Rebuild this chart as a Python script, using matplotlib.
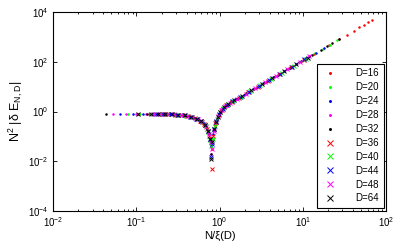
import matplotlib
matplotlib.use('Agg')
import matplotlib.pyplot as plt
from matplotlib.ticker import LogLocator, NullFormatter, NullLocator

plt.rcParams['font.family'] = ['Liberation Sans', 'DejaVu Sans']
plt.rcParams['mathtext.default'] = 'regular'

# N/xi(D) and N^2 |dE| for each bond dimension D
x16 = [0.105, 0.14, 0.18, 0.23, 0.29, 0.36, 0.44, 0.53, 0.62, 0.7, 0.76, 0.81, 0.87, 0.95, 1.05, 1.18, 1.35,
       1.6, 2.0, 2.6, 3.4, 4.5, 6.8, 13.6, 20.4, 27.2, 34, 40.8, 47.6, 54.4, 61.2, 68]
y16 = [0.81, 0.81, 0.80, 0.79, 0.76, 0.71, 0.63, 0.50, 0.36, 0.21, 0.08, 0.03, 0.26, 0.62, 1.1, 1.7, 2.4,
       3.3, 5.0, 8.4, 14, 24.5, 55, 211, 465, 815, 1260, 1800, 2430, 3150, 3960, 4870]

x20 = [0.08, 0.11, 0.15, 0.19, 0.24, 0.3, 0.37, 0.45, 0.54, 0.63, 0.71, 0.77, 0.83, 0.9, 0.98, 1.08, 1.22,
       1.45, 1.8, 2.3, 3.0, 4.0, 5.5, 7.5, 10.5, 14, 17.5, 21, 25.7]
y20 = [0.81, 0.81, 0.81, 0.80, 0.78, 0.75, 0.70, 0.61, 0.49, 0.35, 0.19, 0.06, 0.08, 0.38, 0.78, 1.25, 1.8,
       2.65, 4.0, 6.6, 11, 19.5, 36, 66, 127, 224, 345, 495, 780]

x24 = [0.063, 0.09, 0.12, 0.16, 0.2, 0.25, 0.31, 0.38, 0.46, 0.55, 0.64, 0.72, 0.78, 0.84, 0.92, 1.01, 1.12,
       1.28, 1.55, 1.95, 2.5, 3.3, 4.4, 6.0, 8.2, 11, 14.5, 18]
y24 = [0.81, 0.81, 0.81, 0.81, 0.80, 0.78, 0.75, 0.69, 0.60, 0.48, 0.33, 0.16, 0.04, 0.12, 0.45, 0.92, 1.45,
       2.05, 3.05, 4.8, 7.8, 13.5, 24, 43, 79, 140, 238, 365]

x28 = [0.052, 0.075, 0.1, 0.13, 0.17, 0.21, 0.27, 0.33, 0.4, 0.48, 0.57, 0.66, 0.73, 0.79, 0.85, 0.93, 1.03,
       1.15, 1.32, 1.6, 2.05, 2.7, 3.6, 4.8, 6.5, 9, 12]
y28 = [0.81, 0.81, 0.81, 0.81, 0.81, 0.80, 0.77, 0.74, 0.67, 0.58, 0.45, 0.28, 0.14, 0.02, 0.16, 0.5, 1.0,
       1.55, 2.2, 3.25, 5.2, 9.0, 16, 28, 51, 97, 165]

x32 = [0.043, 0.133, 0.18, 0.22, 0.28, 0.34, 0.41, 0.49, 0.58, 0.67, 0.74, 0.79, 0.86, 0.94, 1.04, 1.17, 1.36,
       1.65, 2.1, 2.8, 3.7, 5.0, 7.0, 9.5, 13, 16.5, 19.4, 22.5, 27.5]
y32 = [0.81, 0.81, 0.80, 0.80, 0.77, 0.73, 0.66, 0.57, 0.43, 0.27, 0.12, 0.02, 0.2, 0.55, 1.05, 1.6, 2.35,
       3.45, 5.5, 9.5, 16.5, 30, 58, 105, 195, 310, 420, 555, 830]

x36 = [0.2, 0.24, 0.29, 0.35, 0.42, 0.5, 0.58, 0.65, 0.71, 0.75, 0.8, 0.84, 0.89, 0.97, 1.07, 1.2, 1.4,
       1.7, 2.2, 2.9, 3.8, 5.2, 7.2, 10.2]
y36 = [0.80, 0.78, 0.75, 0.71, 0.66, 0.55, 0.43, 0.31, 0.19, 0.10, 0.0046, 0.1, 0.33, 0.72, 1.2, 1.75, 2.45,
       3.6, 5.9, 10, 17.5, 32, 62, 120]

x40 = [0.19, 0.23, 0.27, 0.33, 0.39, 0.46, 0.54, 0.61, 0.68, 0.73, 0.77, 0.79, 0.83, 0.87, 0.93, 1.01, 1.1,
       1.25, 1.45, 1.8, 2.35, 3.1, 4.1, 5.6, 7.8, 10.8]
y40 = [0.81, 0.79, 0.77, 0.74, 0.68, 0.60, 0.49, 0.39, 0.27, 0.15, 0.07, 0.04, 0.08, 0.25, 0.5, 0.92, 1.35,
       2.0, 2.65, 4.0, 6.9, 11.8, 20.5, 37, 70, 134]

x44 = [0.17, 0.21, 0.26, 0.31, 0.37, 0.44, 0.52, 0.59, 0.66, 0.72, 0.76, 0.79, 0.82, 0.86, 0.91, 0.99, 1.09,
       1.22, 1.42, 1.75, 2.25, 2.95, 3.9, 5.3, 7.4, 10.4]
y44 = [0.81, 0.80, 0.78, 0.75, 0.70, 0.62, 0.52, 0.41, 0.29, 0.17, 0.08, 0.015, 0.05, 0.2, 0.42, 0.83, 1.3,
       1.8, 2.55, 3.85, 6.3, 10.6, 18.5, 33, 64, 125]

x48 = [0.159, 0.19, 0.235, 0.28, 0.34, 0.4, 0.47, 0.55, 0.62, 0.69, 0.74, 0.78, 0.81, 0.85, 0.9, 0.96, 1.05,
       1.16, 1.33, 1.6, 2.05, 2.65, 3.5, 4.7, 6.5, 9.2, 12]
y48 = [0.81, 0.81, 0.79, 0.77, 0.73, 0.67, 0.59, 0.48, 0.38, 0.23, 0.12, 0.06, 0.03, 0.17, 0.38, 0.65, 1.1,
       1.6, 2.2, 3.25, 5.3, 8.8, 15, 27, 51, 101, 165]

x64 = [0.105, 0.15, 0.18, 0.22, 0.27, 0.32, 0.38, 0.45, 0.53, 0.6, 0.67, 0.72, 0.76, 0.79, 0.82, 0.86, 0.9,
       0.95, 1.02, 1.12, 1.27, 1.5, 1.85, 2.4, 3.2, 4.3, 5.9, 8.3, 11.5]
y64 = [0.81, 0.81, 0.80, 0.80, 0.77, 0.74, 0.69, 0.61, 0.50, 0.40, 0.29, 0.17, 0.08, 0.012, 0.06, 0.2, 0.38,
       0.6, 0.95, 1.45, 2.05, 2.85, 4.2, 7.2, 12.5, 22, 41, 80, 150]

dims = [16, 20, 24, 28, 32, 36, 40, 44, 48, 64]
xs = [x16, x20, x24, x28, x32, x36, x40, x44, x48, x64]
ys = [y16, y20, y24, y28, y32, y36, y40, y44, y48, y64]
colors = ['#ff0000', '#00ff00', '#0000ff', '#ff00ff', '#000000'] * 2
markers = ['.'] * 5 + ['x'] * 5

fig = plt.figure(figsize=(4.15, 2.5), dpi=100)
ax = fig.add_axes([0.1285, 0.157, 0.8015, 0.794])

for d, x, y, c, m in zip(dims, xs, ys, colors, markers):
    if m == '.':
        ax.plot(x, y, linestyle='none', marker='o', markersize=1.8, markeredgewidth=0,
                color=c, label='D=%d' % d)
    else:
        ax.plot(x, y, linestyle='none', marker='x', markersize=3.5, markeredgewidth=0.7,
                color=c, label='D=%d' % d)

ax.set_xscale('log')
ax.set_yscale('log')
ax.set_xlim(1e-2, 1e2)
ax.set_ylim(1e-4, 1e4)
ax.set_yticks([1e-4, 1e-2, 1e0, 1e2, 1e4])
ax.yaxis.set_minor_locator(NullLocator())
ax.xaxis.set_minor_locator(LogLocator(base=10, subs=range(2, 10), numticks=20))
ax.xaxis.set_minor_formatter(NullFormatter())
ax.tick_params(which='both', direction='in', top=True, right=True, labelsize=7, width=0.6)
ax.tick_params(which='major', length=3)
ax.tick_params(which='minor', length=1.5)
for s in ax.spines.values():
    s.set_linewidth(0.8)

ax.set_xlabel('N/ξ(D)', fontsize=8, labelpad=1)
ax.set_ylabel('N$^2$ |δ E$_{N,D}$|', fontsize=9, labelpad=2)

leg = ax.legend(loc='lower right', fontsize=7, fancybox=False, edgecolor='black', framealpha=1,
                labelspacing=0.4, handlelength=1.6, handletextpad=1.8, borderpad=0.5,
                borderaxespad=0.25, markerscale=1.2)
leg.get_frame().set_linewidth(0.8)

fig.savefig('out.png', dpi=100)
